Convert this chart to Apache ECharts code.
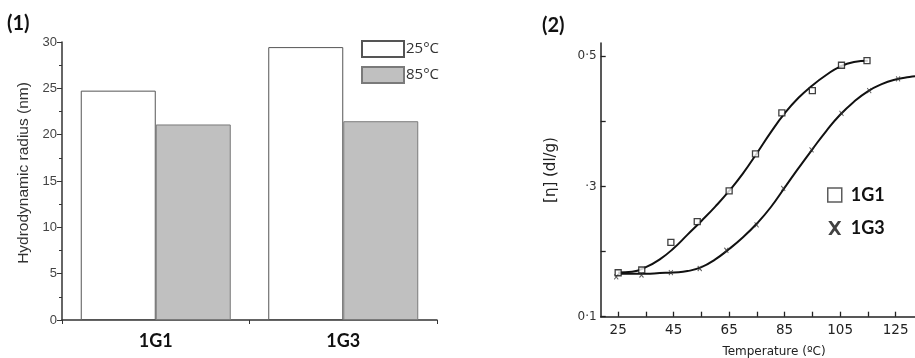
<!DOCTYPE html>
<html>
<head>
<meta charset="utf-8">
<script src="https://cdn.jsdelivr.net/npm/echarts@6/dist/echarts.min.js"></script>
<style>html,body{margin:0;padding:0;background:#fff;}#c{width:915px;height:358px;}</style>
</head>
<body>
<div id="c"></div>
<script>
// ---- Panel (1): bar chart ----
const categories = ['1G1', '1G3'];
const radius25 = [24.75, 29.45];
const radius85 = [21.1, 21.45];

// ---- Panel (2): intrinsic viscosity vs temperature ----
const temp1G1 = [25, 33.5, 44, 53.5, 65, 74.5, 84, 95, 105.5, 114.7];
const eta1G1 = [0.1675, 0.1717, 0.214, 0.246, 0.293, 0.350, 0.413, 0.447, 0.486, 0.493];
const temp1G3 = [24.3, 33.4, 44, 54.4, 64, 74.9, 84.5, 94.7, 105.5, 115.5, 125.9];
const eta1G3 = [0.161, 0.164, 0.1675, 0.174, 0.202, 0.241, 0.297, 0.356, 0.412, 0.447, 0.465];
// fitted curves as drawn
const curveT1 = [25, 30, 35, 40, 45, 50, 55, 60, 65, 70, 75, 80, 85, 90, 95, 100, 105, 110, 115];
const curveV1 = [0.168, 0.169, 0.176, 0.188, 0.205, 0.226, 0.247, 0.269, 0.293, 0.320, 0.351, 0.383, 0.412, 0.436, 0.455, 0.471, 0.484, 0.491, 0.493];
const curveT3 = [25, 30, 35, 40, 45, 50, 55, 60, 65, 70, 75, 80, 85, 90, 95, 100, 105, 110, 115, 120, 125, 130, 132];
const curveV3 = [0.166, 0.166, 0.166, 0.167, 0.168, 0.170, 0.176, 0.188, 0.204, 0.222, 0.243, 0.268, 0.298, 0.328, 0.357, 0.385, 0.410, 0.430, 0.446, 0.457, 0.464, 0.468, 0.469];
const xTicks = [25, 35, 45, 55, 65, 75, 85, 95, 105, 115, 125];
const xLabels = [25, 45, 65, 85, 105, 125];
const yTicks = [0.1, 0.2, 0.3, 0.4, 0.5];
const yLabels = [0.1, 0.3, 0.5];

const zip = (a, b) => a.map((v, i) => [v, b[i]]);

const chart = echarts.init(document.getElementById('c'), null, {renderer: 'canvas'});
const axisGray = '#333';
const option = {
  animation: false,
  backgroundColor: '#fff',
  grid: [
    {left: 62, top: 42, width: 375, height: 278},
    {left: 600.7, top: 43.1, right: 0, bottom: 41.3}
  ],
  legend: [
    {
      data: [{name: '25°C', icon: 'rect'}, {name: '85°C', icon: 'rect'}],
      orient: 'vertical', left: 361, top: 40,
      itemWidth: 42, itemHeight: 16, itemGap: 8, padding: 0,
      textStyle: {fontFamily: 'Open Sans', fontSize: 15, color: '#333', padding: [0, 0, 0, -3]}
    },
    {
      data: [
        {name: '1G1', icon: 'rect', itemStyle: {color: '#fff', borderColor: '#333', borderWidth: 1.5}},
        {name: '1G3', icon: 'path://M0,0L3,0L6,4.2L9,0L12,0L7.6,6.5L12,13L9,13L6,8.8L3,13L0,13L4.4,6.5Z', itemStyle: {color: '#111', borderWidth: 0}}
      ],
      orient: 'vertical', left: 827, top: 186,
      itemWidth: 14, itemHeight: 14, itemGap: 15, padding: 0,
      textStyle: {fontFamily: 'Lato', fontWeight: 'bold', fontSize: 18, color: '#111', padding: [0, 0, 0, 4]}
    }
  ],
  xAxis: [
    {
      type: 'category', gridIndex: 0, data: categories,
      axisLine: {lineStyle: {color: axisGray, width: 1.5}},
      axisTick: {show: true, length: 4, lineStyle: {color: axisGray}},
      axisLabel: {fontFamily: 'Lato', fontWeight: 'bold', fontSize: 18, color: '#111', margin: 12}
    },
    {
      type: 'value', gridIndex: 1, min: 18.7, max: 132,
      axisLine: {lineStyle: {color: '#222', width: 1.5}},
      axisTick: {show: true, inside: true, length: 5, customValues: xTicks, lineStyle: {color: '#222', width: 1.3}},
      axisLabel: {customValues: xLabels, fontFamily: 'DejaVu Sans', fontSize: 13.5, color: '#222', margin: 7},
      splitLine: {show: false}
    }
  ],
  yAxis: [
    {
      type: 'value', gridIndex: 0, min: 0, max: 30, interval: 5,
      axisLine: {show: true, lineStyle: {color: axisGray, width: 1.5}},
      axisTick: {show: true, length: 5, lineStyle: {color: axisGray}},
      minorTick: {show: true, splitNumber: 2, length: 3, lineStyle: {color: axisGray}},
      axisLabel: {fontFamily: 'Liberation Sans', fontSize: 13, color: '#444', margin: 5},
      splitLine: {show: false}
    },
    {
      type: 'value', gridIndex: 1, min: 0.1, max: 0.52,
      axisLine: {show: true, lineStyle: {color: '#222', width: 1.5}},
      axisTick: {show: true, inside: true, length: 5, customValues: yTicks, lineStyle: {color: '#222', width: 1.3}},
      axisLabel: {
        customValues: yLabels, fontFamily: 'DejaVu Sans', fontSize: 12, color: '#333', margin: 4,
        formatter: v => { const r = Math.round(v * 10); return r === 3 ? '·3' : '0·' + r; }
      },
      splitLine: {show: false}
    }
  ],
  series: [
    {
      name: '25°C', type: 'bar', xAxisIndex: 0, yAxisIndex: 0, data: radius25,
      barGap: '0%', barCategoryGap: '20%',
      itemStyle: {color: '#fff', borderColor: '#555', borderWidth: 1}
    },
    {
      name: '85°C', type: 'bar', xAxisIndex: 0, yAxisIndex: 0, data: radius85,
      barGap: '0%', barCategoryGap: '20%',
      itemStyle: {color: '#c0c0c0', borderColor: '#7a7a7a', borderWidth: 1}
    },
    {
      name: 'curve1G1', type: 'line', xAxisIndex: 1, yAxisIndex: 1,
      data: zip(curveT1, curveV1), smooth: true, showSymbol: false, symbol: 'none',
      lineStyle: {color: '#111', width: 2}
    },
    {
      name: 'curve1G3', type: 'line', xAxisIndex: 1, yAxisIndex: 1,
      data: zip(curveT3, curveV3), smooth: true, showSymbol: false, symbol: 'none',
      lineStyle: {color: '#111', width: 2}
    },
    {
      name: '1G1', type: 'scatter', xAxisIndex: 1, yAxisIndex: 1,
      data: zip(temp1G1, eta1G1), symbol: 'rect', symbolSize: 6, z: 5,
      itemStyle: {color: '#fff', borderColor: '#111', borderWidth: 1.3}
    },
    {
      name: '1G3', type: 'scatter', xAxisIndex: 1, yAxisIndex: 1,
      data: zip(temp1G3, eta1G3), symbol: 'path://M0,0L10,12M10,0L0,12', symbolSize: [4, 5], z: 5,
      itemStyle: {color: 'none', borderColor: '#333', borderWidth: 1}
    }
  ],
  graphic: [
    {type: 'text', left: 7, top: 14, style: {text: '(1)', font: 'bold 20px Lato', fill: '#111'}},
    {type: 'text', left: 542, top: 16, style: {text: '(2)', font: 'bold 20px Lato', fill: '#111'}},
    {type: 'text', x: 24, y: 173, rotation: Math.PI / 2,
      style: {text: 'Hydrodynamic radius (nm)', font: '15.5px "Liberation Sans"', fill: '#333', align: 'center', verticalAlign: 'middle'}},
    {type: 'text', x: 551, y: 170, rotation: Math.PI / 2,
      style: {text: '[η] (dl/g)', font: '15px "DejaVu Sans"', fill: '#222', align: 'center', verticalAlign: 'middle'}},
    {type: 'text', x: 774, y: 352, style: {text: 'Temperature (ºC)', font: '12px "DejaVu Sans"', fill: '#222', align: 'center', verticalAlign: 'middle'}}
  ]
};
chart.setOption(option);
</script>
</body>
</html>
